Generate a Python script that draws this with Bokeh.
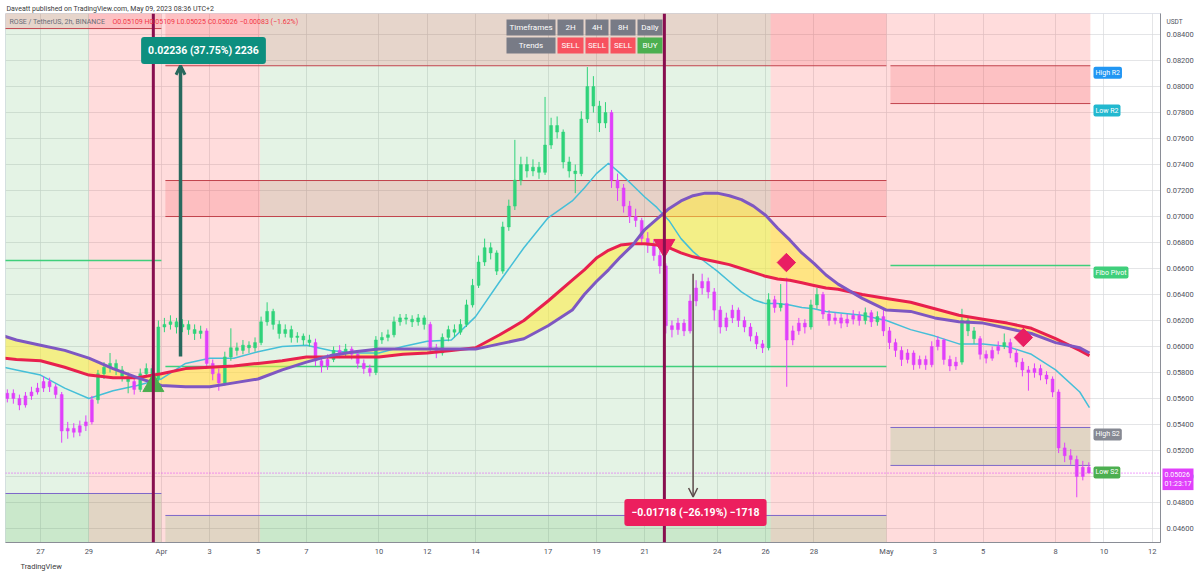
import numpy as np
import pandas as pd
from bokeh.plotting import figure
from bokeh.models import (ColumnDataSource, Range1d, FixedTicker, NumeralTickFormatter,
                          Label, Span, Arrow, OpenHead, Title)
from bokeh.core.properties import value
from bokeh.embed import file_html
from bokeh.resources import INLINE

# ---------------------------------------------------------------- data
ORIGIN = "2023-03-27 00:00"            # day 0 of the time axis
CANDLE_START = "2023-03-25 12:00"      # first candle (6h resolution)
CANDLE_HOURS = 6
FIRST_OPEN = 0.0560

CLOSE = [
    0.0564, 0.0560,
    0.0555, 0.0562, 0.0565, 0.0568,  0.0573, 0.0569, 0.0563, 0.0535,
    0.0537, 0.0534, 0.0539, 0.0542,  0.0559, 0.0579, 0.0584, 0.0587,
    0.0582, 0.0577, 0.0573, 0.0567,  0.0579, 0.0583, 0.0575, 0.0615,
    0.0617, 0.0619, 0.0615, 0.0617,  0.0613, 0.0610, 0.0612, 0.0587,
    0.0579, 0.0572, 0.0592, 0.0599,  0.0597, 0.0601, 0.0599, 0.0603,
    0.0619, 0.0627, 0.0617, 0.0610,  0.0613, 0.0607, 0.0608, 0.0605,
    0.0603, 0.0589, 0.0585, 0.0590,  0.0597, 0.0595, 0.0598, 0.0594,
    0.0587, 0.0583, 0.0580, 0.0605,  0.0607, 0.0609, 0.0619, 0.0622,
    0.0621, 0.0619, 0.0622, 0.0617,  0.0599, 0.0595, 0.0607, 0.0613,
    0.0611, 0.0617, 0.0632, 0.0647,  0.0665, 0.0676, 0.0672, 0.0658,
    0.0692, 0.0708, 0.0728, 0.0740,  0.0735, 0.0738, 0.0734, 0.0755,
    0.0770, 0.0765, 0.0742, 0.0735,  0.0733, 0.0775, 0.0800, 0.0785,
    0.0772, 0.0780, 0.0728, 0.0722,  0.0708, 0.0700, 0.0697, 0.0683,
    0.0678, 0.0670, 0.0662, 0.0616,  0.0613, 0.0618, 0.0612, 0.0635,
    0.0645, 0.0650, 0.0642, 0.0628,  0.0615, 0.0622, 0.0628, 0.0620,
    0.0615, 0.0608, 0.0602, 0.0599,  0.0636, 0.0630, 0.0633, 0.0605,
    0.0612, 0.0618, 0.0615, 0.0632,  0.0640, 0.0625, 0.0620, 0.0622,
    0.0618, 0.0621, 0.0624, 0.0620,  0.0626, 0.0619, 0.0623, 0.0612,
    0.0603, 0.0597, 0.0590, 0.0595,  0.0586, 0.0590, 0.0586, 0.0600,
    0.0605, 0.0590, 0.0585, 0.0588,  0.0620, 0.0612, 0.0606, 0.0594,
    0.0591, 0.0597, 0.0600, 0.0603,  0.0595, 0.0588, 0.0582, 0.0580,
    0.0583, 0.0578, 0.0575, 0.0565,  0.0522, 0.0516, 0.0513, 0.0500,
    0.0507, 0.05026,
]
HIGH = [
    0.0567, 0.0567,
    0.0563, 0.0565, 0.0569, 0.0572,  0.0577, 0.0576, 0.0571, 0.0565,
    0.0542, 0.0541, 0.0543, 0.0547,  0.0562, 0.0582, 0.0588, 0.0595,
    0.0590, 0.0585, 0.0580, 0.0576,  0.0583, 0.0587, 0.0586, 0.0620,
    0.0622, 0.0624, 0.0622, 0.0621,  0.0620, 0.0617, 0.0616, 0.0614,
    0.0590, 0.0583, 0.0596, 0.0614,  0.0603, 0.0605, 0.0604, 0.0607,
    0.0623, 0.0634, 0.0629, 0.0620,  0.0617, 0.0616, 0.0611, 0.0610,
    0.0609, 0.0606, 0.0592, 0.0594,  0.0600, 0.0601, 0.0602, 0.0600,
    0.0596, 0.0590, 0.0586, 0.0608,  0.0611, 0.0613, 0.0623, 0.0625,
    0.0625, 0.0624, 0.0625, 0.0624,  0.0619, 0.0602, 0.0610, 0.0616,
    0.0617, 0.0621, 0.0636, 0.0652,  0.0670, 0.0683, 0.0680, 0.0674,
    0.0696, 0.0713, 0.0759, 0.0746,  0.0746, 0.0744, 0.0742, 0.0792,
    0.0776, 0.0777, 0.0767, 0.0746,  0.0740, 0.0781, 0.0815, 0.0808,
    0.0789, 0.0788, 0.0782, 0.0733,  0.0725, 0.0712, 0.0706, 0.0699,
    0.0688, 0.0682, 0.0674, 0.0664,  0.0620, 0.0622, 0.0621, 0.0640,
    0.0651, 0.0656, 0.0653, 0.0645,  0.0631, 0.0626, 0.0632, 0.0630,
    0.0623, 0.0618, 0.0611, 0.0605,  0.0641, 0.0639, 0.0648, 0.0653,
    0.0616, 0.0622, 0.0621, 0.0636,  0.0645, 0.0642, 0.0628, 0.0626,
    0.0625, 0.0625, 0.0628, 0.0627,  0.0630, 0.0628, 0.0627, 0.0630,
    0.0615, 0.0606, 0.0600, 0.0598,  0.0597, 0.0593, 0.0593, 0.0604,
    0.0608, 0.0606, 0.0593, 0.0592,  0.0629, 0.0623, 0.0615, 0.0608,
    0.0597, 0.0600, 0.0604, 0.0610,  0.0606, 0.0598, 0.0591, 0.0585,
    0.0587, 0.0586, 0.0581, 0.0577,  0.0567, 0.0526, 0.0521, 0.0516,
    0.0512, 0.05109,
]
LOW = [
    0.0557, 0.0556,
    0.0551, 0.0553, 0.0559, 0.0563,  0.0565, 0.0565, 0.0560, 0.0526,
    0.0529, 0.0530, 0.0531, 0.0535,  0.0540, 0.0556, 0.0575, 0.0580,
    0.0578, 0.0573, 0.0564, 0.0563,  0.0565, 0.0576, 0.0571, 0.0573,
    0.0611, 0.0613, 0.0610, 0.0611,  0.0609, 0.0605, 0.0606, 0.0583,
    0.0574, 0.0566, 0.0570, 0.0589,  0.0593, 0.0594, 0.0595, 0.0596,
    0.0601, 0.0616, 0.0613, 0.0606,  0.0607, 0.0603, 0.0603, 0.0601,
    0.0600, 0.0585, 0.0580, 0.0582,  0.0588, 0.0591, 0.0592, 0.0590,
    0.0583, 0.0579, 0.0577, 0.0578,  0.0602, 0.0604, 0.0607, 0.0616,
    0.0617, 0.0615, 0.0616, 0.0613,  0.0595, 0.0591, 0.0593, 0.0604,
    0.0607, 0.0609, 0.0615, 0.0630,  0.0645, 0.0662, 0.0667, 0.0655,
    0.0656, 0.0689, 0.0705, 0.0724,  0.0730, 0.0731, 0.0729, 0.0732,
    0.0752, 0.0760, 0.0737, 0.0730,  0.0718, 0.0731, 0.0772, 0.0780,
    0.0765, 0.0768, 0.0722, 0.0712,  0.0703, 0.0695, 0.0692, 0.0678,
    0.0672, 0.0666, 0.0656, 0.0610,  0.0607, 0.0609, 0.0608, 0.0610,
    0.0631, 0.0640, 0.0637, 0.0620,  0.0610, 0.0612, 0.0618, 0.0615,
    0.0611, 0.0604, 0.0598, 0.0595,  0.0597, 0.0626, 0.0627, 0.0569,
    0.0601, 0.0609, 0.0610, 0.0613,  0.0629, 0.0621, 0.0616, 0.0617,
    0.0614, 0.0615, 0.0617, 0.0616,  0.0617, 0.0615, 0.0616, 0.0608,
    0.0598, 0.0592, 0.0585, 0.0587,  0.0582, 0.0583, 0.0582, 0.0584,
    0.0597, 0.0586, 0.0581, 0.0582,  0.0586, 0.0608, 0.0602, 0.0590,
    0.0587, 0.0589, 0.0594, 0.0598,  0.0591, 0.0584, 0.0577, 0.0566,
    0.0576, 0.0574, 0.0571, 0.0561,  0.0518, 0.0511, 0.0509, 0.0484,
    0.0497, 0.05025,
]

# moving averages: daily samples, twice a day around the Apr 18-28 hump
MA_TIMES = sorted(
    ["2023-03-25 12:00", "2023-05-09 09:36"]
    + [d.strftime("%Y-%m-%d %H:%M") for d in pd.date_range("2023-03-26", "2023-05-09", freq="D")]
    + [d.strftime("%Y-%m-%d %H:%M") for d in pd.date_range("2023-04-18 12:00", "2023-04-28 12:00", freq="D")]
)
MA_FAST = [0.0584, 0.0582, 0.0578, 0.0568, 0.0560, 0.0566, 0.0570, 0.0575, 0.0587, 0.0591,
           0.0591, 0.0596, 0.0600, 0.0601, 0.0597, 0.0595, 0.0595, 0.0600, 0.0604, 0.0605,
           0.0623, 0.0650, 0.0676, 0.0699, 0.0712,
           0.0722, 0.0733, 0.0741, 0.0733, 0.0724, 0.0715, 0.0707, 0.0697, 0.0683, 0.0673,
           0.0665, 0.0658, 0.0650, 0.0642, 0.0636, 0.0633, 0.0633, 0.0632, 0.0630, 0.0629,
           0.0627, 0.0626,
           0.0624, 0.0620, 0.0613, 0.0608, 0.0602, 0.0602, 0.0600, 0.0594, 0.0582, 0.0565,
           0.0553]
MA_MID = [0.0591, 0.0590, 0.0589, 0.0584, 0.0578, 0.0576, 0.0576, 0.0579, 0.0583, 0.0584,
          0.0585, 0.0587, 0.0589, 0.0592, 0.0592, 0.0592, 0.0592, 0.0594, 0.0595, 0.0597,
          0.0599, 0.0609, 0.0620, 0.0635, 0.0651,
          0.0659, 0.0668, 0.0674, 0.0678, 0.0679, 0.0679, 0.0678, 0.0676, 0.0672, 0.0669,
          0.0667, 0.0665, 0.0663, 0.0660, 0.0657, 0.0654, 0.0652, 0.0651, 0.0649, 0.0647,
          0.0645, 0.0644,
          0.0640, 0.0637, 0.0634, 0.0629, 0.0624, 0.0621, 0.0618, 0.0614, 0.0606, 0.0597,
          0.0593]
MA_SLOW = [0.0608, 0.0605, 0.0601, 0.0597, 0.0591, 0.0583, 0.0576, 0.0570, 0.0569, 0.0569,
           0.0572, 0.0575, 0.0582, 0.0588, 0.0593, 0.0596, 0.0598, 0.0598, 0.0598, 0.0598,
           0.0598, 0.0602, 0.0606, 0.0616, 0.0628,
           0.0640, 0.0650, 0.0659, 0.0669, 0.0678, 0.0690, 0.0698, 0.0706, 0.0712, 0.0716,
           0.0718, 0.0718, 0.0716, 0.0713, 0.0708, 0.0701, 0.0691, 0.0682, 0.0672, 0.0664,
           0.0655, 0.0648,
           0.0637, 0.0628, 0.0627, 0.0622, 0.0619, 0.0618, 0.0614, 0.0610, 0.0603, 0.0599,
           0.0595]

# trend background bands
BAND_FROM = ["2023-03-20", "2023-03-29 00:00", "2023-04-05 02:00", "2023-04-26 05:00"]
BAND_TO = ["2023-03-29 00:00", "2023-04-05 02:00", "2023-04-26 05:00", "2023-05-09 10:30"]
BAND_TREND = ["up", "down", "up", "down"]

# monthly pivot zones
PIVOT_FROM = ["2023-03-01 04:00", "2023-04-01 04:00", "2023-05-01 04:00"]
PIVOT_TO = ["2023-04-01 00:00", "2023-05-01 00:00", "2023-05-09 10:30"]
R2_TOP = [0.0890, 0.0890, 0.08160]
R2_BOT = [0.08446, 0.08160, 0.07869]
FIBO_PIVOT = [0.06662, 0.05846, 0.06623]
S2_TOP = [0.04869, 0.04700, 0.05377]
S2_BOT = [0.0420, 0.0420, 0.05085]
R1_ZONE = ("2023-04-01 04:00", "2023-05-01 00:00", 0.07000, 0.07277)

# signals
BUY_SIGNAL = ("2023-03-31 16:00", 0.0570)
SELL_SIGNAL = ("2023-04-21 19:30", 0.06777)
DIAMOND_TIMES = ["2023-04-26 20:40", "2023-05-06 16:00"]
DIAMOND_PRICES = [0.06646, 0.06069]

# measurements
MEASURE_UP = ("2023-04-01 19:00", 0.05924, 0.08160, "0.02236 (37.75%) 2236")
MEASURE_DOWN = ("2023-04-23 00:00", 0.06560, 0.04842, "\u22120.01718 (\u221226.19%) \u22121718")

LAST_PRICE = 0.05026
COUNTDOWN = "01:23:17"

TIMEFRAMES = ["2H", "4H", "8H", "Daily"]
TRENDS = ["SELL", "SELL", "SELL", "BUY"]

X_TICK_DATES = ["2023-03-27", "2023-03-29", "2023-04-01", "2023-04-03", "2023-04-05", "2023-04-07",
                "2023-04-10", "2023-04-12", "2023-04-14", "2023-04-17", "2023-04-19", "2023-04-21",
                "2023-04-24", "2023-04-26", "2023-04-28", "2023-05-01", "2023-05-03", "2023-05-05",
                "2023-05-08", "2023-05-10", "2023-05-12"]
X_TICK_LABELS = ["27", "29", "Apr", "3", "5", "7", "10", "12", "14", "17", "19", "21",
                 "24", "26", "28", "May", "3", "5", "8", "10", "12"]
Y_TICKS = [0.046, 0.048, 0.050, 0.052, 0.054, 0.056, 0.058, 0.060, 0.062, 0.064,
           0.066, 0.068, 0.070, 0.072, 0.074, 0.076, 0.078, 0.080, 0.082, 0.084]

# ---------------------------------------------------------------- helpers
T0 = pd.Timestamp(ORIGIN)


def day(ts):
    return (pd.Timestamp(ts) - T0) / pd.Timedelta(days=1)


X0, X1 = -1.45, 46.34
Y0, Y1 = 0.04492, 0.08562
FL, FR, FT, FB = 5, 1160, 13, 542   # frame in window pixels


def px_x(px):
    return X0 + (px - FL) * (X1 - X0) / (FR - FL)


def px_y(py):
    return Y1 - (py - FT) * (Y1 - Y0) / (FB - FT)


FONT = "Roboto"
GREEN_C = "#2fd37a"
MAGENTA_C = "#e040fb"

p = figure(frame_width=FR - FL, frame_height=FB - FT, x_range=Range1d(X0, X1), y_range=Range1d(Y0, Y1),
           y_axis_location="right", output_backend="svg", toolbar_location=None,
           min_border_left=FL, min_border_right=1200 - FR, min_border_top=FT,
           min_border_bottom=575 - FB, title=None,
           background_fill_color="white", border_fill_color="white",
           outline_line_color="#e0e3eb")

# axes / grid
tick_days = [int(round(day(d))) for d in X_TICK_DATES]
p.xaxis.ticker = FixedTicker(ticks=tick_days)
p.xgrid.ticker = FixedTicker(ticks=tick_days)
p.xaxis.major_label_overrides = {k: v for k, v in zip(tick_days, X_TICK_LABELS)}
p.yaxis.ticker = FixedTicker(ticks=Y_TICKS)
p.ygrid.ticker = FixedTicker(ticks=Y_TICKS)
p.yaxis.formatter = NumeralTickFormatter(format="0.00000")
for ax in (p.xaxis, p.yaxis):
    ax.major_tick_line_color = None
    ax.minor_tick_line_color = None
    ax.major_tick_out = 0
    ax.axis_line_color = "#8a8d96"
    ax.major_label_text_font_size = "7.5px"
    ax.major_label_text_color = "#50535e"
    ax.major_label_text_font = FONT
p.xaxis.major_label_standoff = 4
p.yaxis.major_label_standoff = 6
p.xgrid.grid_line_color = "#d9dadd"
p.ygrid.grid_line_color = "#d9dadd"
p.xgrid.grid_line_alpha = 0.7
p.ygrid.grid_line_alpha = 0.7

# trend bands
band_col = {"up": "#4caf50", "down": "#ff5252"}
band_alpha = {"up": 0.15, "down": 0.2}
p.quad(left=[day(t) for t in BAND_FROM], right=[day(t) for t in BAND_TO],
       bottom=0.03, top=0.10,
       fill_color=[band_col[t] for t in BAND_TREND],
       fill_alpha=[band_alpha[t] for t in BAND_TREND], line_alpha=0)

# pivot zones
pl = [day(t) for t in PIVOT_FROM]
pr = [day(t) for t in PIVOT_TO]
p.quad(left=pl, right=pr, bottom=R2_BOT, top=R2_TOP, fill_color="#f23645", fill_alpha=0.16, line_alpha=0)
p.quad(left=pl, right=pr, bottom=S2_BOT, top=S2_TOP, fill_color="#4caf50", fill_alpha=0.17, line_alpha=0)
p.quad(left=[day(R1_ZONE[0])], right=[day(R1_ZONE[1])], bottom=[R1_ZONE[2]], top=[R1_ZONE[3]],
       fill_color="#f23645", fill_alpha=0.18, line_alpha=0)
p.segment(x0=pl + pl, x1=pr + pr, y0=R2_BOT + R2_TOP, y1=R2_BOT + R2_TOP, line_color="#c2434c", line_width=1)
p.segment(x0=[day(R1_ZONE[0])] * 2, x1=[day(R1_ZONE[1])] * 2, y0=list(R1_ZONE[2:]), y1=list(R1_ZONE[2:]),
          line_color="#c2434c", line_width=1)
p.segment(x0=pl + pl, x1=pr + pr, y0=S2_TOP + S2_BOT, y1=S2_TOP + S2_BOT, line_color="#7d67c9", line_width=1)
p.segment(x0=pl, x1=pr, y0=FIBO_PIVOT, y1=FIBO_PIVOT, line_color="#3fcf7b", line_width=1.5)

# moving averages + ribbon
ma_x = [day(t) for t in MA_TIMES]
p.varea(x=ma_x, y1=MA_MID, y2=MA_SLOW, fill_color="#ffeb3b", fill_alpha=0.55)
p.line(ma_x, MA_FAST, line_color="#45bfd8", line_width=1.5)

# candles
n = len(CLOSE)
c_start = day(CANDLE_START)
cx = [c_start + (i + 0.5) * CANDLE_HOURS / 24 for i in range(n)]
opens = [FIRST_OPEN] + CLOSE[:-1]
fast_at = np.interp(cx, ma_x, MA_FAST)
colors = [GREEN_C if c >= f else MAGENTA_C for c, f in zip(CLOSE, fast_at)]
src = ColumnDataSource(dict(x=cx, top=[max(o, c) for o, c in zip(opens, CLOSE)],
                            bot=[min(o, c) for o, c in zip(opens, CLOSE)],
                            h=HIGH, l=LOW, col=colors))
p.segment(x0="x", x1="x", y0="h", y1="l", line_color="col", line_width=1, source=src)
p.vbar(x="x", width=0.12, top="top", bottom="bot", fill_color="col", line_color="col",
       line_width=0.5, source=src)

p.line(ma_x, MA_MID, line_color="#e8204e", line_width=3)
p.line(ma_x, MA_SLOW, line_color="#7e57c2", line_width=3)

# current price line
p.add_layout(Span(location=LAST_PRICE, dimension="width", line_color=MAGENTA_C,
                  line_dash="1 2", line_width=1))

# signal bars
for t in (BUY_SIGNAL[0], SELL_SIGNAL[0]):
    p.add_layout(Span(location=day(t), dimension="height", line_color="#880e4f", line_width=3))

p.scatter([day(BUY_SIGNAL[0])], [BUY_SIGNAL[1]], marker="triangle", size=21,
          fill_color="#4caf50", line_color="#4caf50")
p.scatter([day(SELL_SIGNAL[0])], [SELL_SIGNAL[1]], marker="inverted_triangle", size=21,
          fill_color="#e91e63", line_color="#e91e63")
p.scatter([day(t) for t in DIAMOND_TIMES], DIAMOND_PRICES, marker="square", angle=np.pi / 4,
          size=13, fill_color="#e91e63", line_color="#e91e63")

# measurements
mu_x = day(MEASURE_UP[0])
p.add_layout(Arrow(end=OpenHead(size=9, line_color="#28695e", line_width=3),
                   x_start=mu_x, y_start=MEASURE_UP[1], x_end=mu_x, y_end=MEASURE_UP[2],
                   line_color="#28695e", line_width=3.5))
p.add_layout(Label(x=px_x(203), y=px_y(50), text=MEASURE_UP[3], text_align="center",
                   text_baseline="middle", text_color="white", text_font=FONT,
                   text_font_size="10.5px", text_font_style="bold",
                   background_fill_color="#0d8f7f", padding=7, border_radius=3))
md_x = day(MEASURE_DOWN[0])
p.add_layout(Arrow(end=OpenHead(size=9, line_color="#5b4a4a", line_width=1.5),
                   x_start=md_x, y_start=MEASURE_DOWN[1], x_end=md_x, y_end=MEASURE_DOWN[2],
                   line_color="#5b4a4a", line_width=1.5))
p.add_layout(Label(x=px_x(695), y=px_y(512), text=MEASURE_DOWN[3], text_align="center",
                   text_baseline="middle", text_color="white", text_font=FONT,
                   text_font_size="10.5px", text_font_style="bold",
                   background_fill_color="#ec1f5e", padding=7, border_radius=3))

# trend table
col_l = [506, 557, 585, 610, 637]
col_r = [555, 583, 608, 635, 662]
row_c = [27, 45]
cells_x, cells_y, cells_w, cells_txt, cells_col = [], [], [], [], []
row_texts = [["Timeframes"] + TIMEFRAMES, ["Trends"] + TRENDS]
for r, texts in enumerate(row_texts):
    for cidx, txt in enumerate(texts):
        cells_x.append(px_x((col_l[cidx] + col_r[cidx]) / 2))
        cells_y.append(px_y(row_c[r]))
        cells_w.append(col_r[cidx] - col_l[cidx])
        cells_txt.append(txt)
        if r == 0 or cidx == 0:
            cells_col.append("#787b86")
        else:
            cells_col.append("#f7525f" if txt == "SELL" else "#4caf50")
p.rect(x=cells_x, y=cells_y, width=cells_w, height=16, width_units="screen", height_units="screen",
       fill_color=cells_col, line_alpha=0)
p.text(x=cells_x, y=cells_y, text=cells_txt, text_align="center", text_baseline="middle",
       text_color="white", text_font=value(FONT), text_font_size="8px")

# level labels of the current period
lvl_x = px_x(1093)
for txt, lv, col in [("High R2", R2_TOP[2], "#2196f3"), ("Low R2", R2_BOT[2], "#22b8cf"),
                     ("Fibo Pivot", FIBO_PIVOT[2], "#3fcf7b"), ("High S2", S2_TOP[2], "#868993"),
                     ("Low S2", S2_BOT[2], "#4caf50")]:
    p.add_layout(Label(x=lvl_x, y=lv, text=txt, text_baseline="top", text_color="white",
                       text_font=FONT, text_font_size="7px", background_fill_color=col,
                       padding=2, border_radius=2, y_offset=-1))

# header texts
p.add_layout(Label(x=px_x(9), y=px_y(21), text="ROSE / TetherUS, 2h, BINANCE", text_baseline="middle",
                   text_color="#6a6d78", text_font=FONT, text_font_size="7px"))
p.add_layout(Label(x=px_x(112), y=px_y(21),
                   text="O0.05109 H0.05109 L0.05025 C0.05026 \u22120.00083 (\u22121.62%)",
                   text_baseline="middle", text_color="#f23645", text_font=FONT, text_font_size="7px"))

# texts outside the plotting frame
p.add_layout(Title(text="Daveatt published on TradingView.com, May 09, 2023 08:36 UTC+2",
                   align="left", text_font=FONT, text_font_size="7px", text_font_style="normal",
                   text_color="#3a3a3a", standoff=2, offset=1), "above")
p.add_layout(Title(text="TradingView", align="left", text_font=FONT, text_font_size="7.5px",
                   text_font_style="normal", text_color="#3a3a3a", standoff=2, offset=15), "below")
p.add_layout(Label(x=px_x(1166), y=px_y(21), text="USDT", text_baseline="middle",
                   text_color="#50535e", text_font=FONT, text_font_size="6.5px"), "right")
p.add_layout(Label(x=px_x(1162), y=px_y(468), text=f"{LAST_PRICE:.5f}\n{COUNTDOWN}",
                   text_baseline="top", text_color="white", text_font=FONT, text_font_size="7px",
                   background_fill_color=MAGENTA_C, padding=2), "right")

open("out.html", "w").write(file_html(p, INLINE))
